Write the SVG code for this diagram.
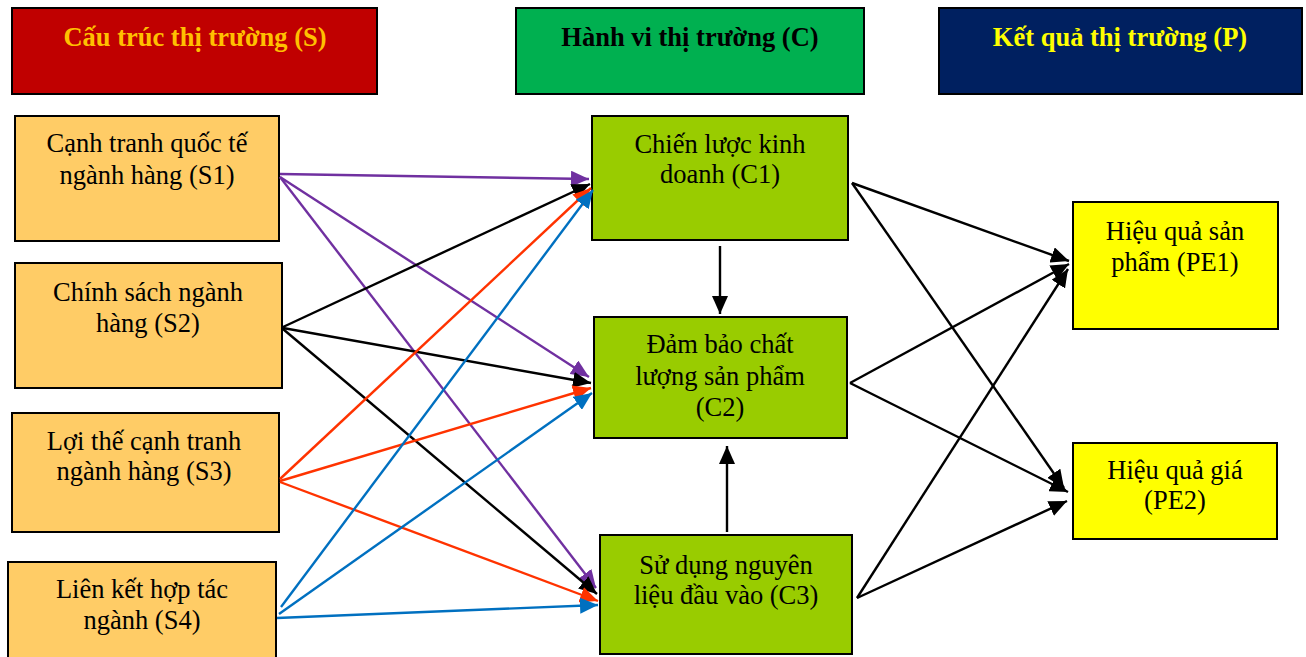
<svg xmlns="http://www.w3.org/2000/svg" width="1306" height="657" viewBox="0 0 1306 657">
<style>
.box{stroke:#000;stroke-width:2}
.hd{font-family:"Liberation Serif","Times New Roman",serif;font-weight:bold;font-size:26.5px;text-anchor:middle}
.t{font-family:"Liberation Serif","Times New Roman",serif;font-size:26.5px;text-anchor:middle;fill:#000}
.s{fill:#FFCC66}.c{fill:#99CC00}.p{fill:#FFFF00}
.ln{fill:none;stroke-width:2.4}
.k{stroke:#000;marker-end:url(#mk)}
.pu{stroke:#7030A0;marker-end:url(#mpu)}
.r{stroke:#FF3300;marker-end:url(#mr)}
.b{stroke:#0070C0;marker-end:url(#mb)}
</style>
<defs>
<marker id="mk" markerUnits="userSpaceOnUse" markerWidth="19" markerHeight="16" refX="18" refY="8" orient="auto"><path d="M0,0 L18,8 L0,16 Z" fill="#000"/></marker>
<marker id="mpu" markerUnits="userSpaceOnUse" markerWidth="19" markerHeight="16" refX="18" refY="8" orient="auto"><path d="M0,0 L18,8 L0,16 Z" fill="#7030A0"/></marker>
<marker id="mr" markerUnits="userSpaceOnUse" markerWidth="19" markerHeight="16" refX="18" refY="8" orient="auto"><path d="M0,0 L18,8 L0,16 Z" fill="#FF3300"/></marker>
<marker id="mb" markerUnits="userSpaceOnUse" markerWidth="19" markerHeight="16" refX="18" refY="8" orient="auto"><path d="M0,0 L18,8 L0,16 Z" fill="#0070C0"/></marker>
</defs>
<rect width="1306" height="657" fill="#fff"/>

<g id="hdrS"><rect class="box" x="12" y="8" width="365" height="86" fill="#C00000"/><text class="hd" x="195" y="46" fill="#FFC000">Cấu trúc thị trường (S)</text></g>
<g id="hdrC"><rect class="box" x="516" y="8" width="348" height="86" fill="#00B050"/><text class="hd" x="690" y="46" fill="#000">Hành vi thị trường (C)</text></g>
<g id="hdrP"><rect class="box" x="939" y="8" width="363" height="86" fill="#002060"/><text class="hd" x="1120" y="46" fill="#FFFF00">Kết quả thị trường (P)</text></g>

<g id="S1"><rect class="box s" x="15" y="116" width="264" height="125"/><text class="t" x="147" y="152">Cạnh tranh quốc tế</text><text class="t" x="147" y="184">ngành hàng (S1)</text></g>
<g id="S2"><rect class="box s" x="15" y="263" width="267" height="125"/><text class="t" x="148" y="301">Chính sách ngành</text><text class="t" x="148" y="332">hàng (S2)</text></g>
<g id="S3"><rect class="box s" x="12" y="413" width="267" height="119"/><text class="t" x="144" y="450">Lợi thế cạnh tranh</text><text class="t" x="144" y="480">ngành hàng (S3)</text></g>
<g id="S4"><rect class="box s" x="8" y="562" width="268" height="98"/><text class="t" x="142" y="598">Liên kết hợp tác</text><text class="t" x="142" y="629">ngành (S4)</text></g>

<g id="C1"><rect class="box c" x="592" y="116" width="256" height="124"/><text class="t" x="720" y="153">Chiến lược kinh</text><text class="t" x="720" y="183">doanh (C1)</text></g>
<g id="C2"><rect class="box c" x="594" y="317" width="253" height="121"/><text class="t" x="720" y="353">Đảm bảo chất</text><text class="t" x="720" y="385">lượng sản phẩm</text><text class="t" x="720" y="416">(C2)</text></g>
<g id="C3"><rect class="box c" x="600" y="535" width="252" height="119"/><text class="t" x="726" y="574">Sử dụng nguyên</text><text class="t" x="726" y="604">liệu đầu vào (C3)</text></g>

<g id="PE1"><rect class="box p" x="1073" y="202" width="205" height="127"/><text class="t" x="1175" y="240">Hiệu quả sản</text><text class="t" x="1175" y="271">phẩm (PE1)</text></g>
<g id="PE2"><rect class="box p" x="1073" y="443" width="204" height="96"/><text class="t" x="1175" y="479">Hiệu quả giá</text><text class="t" x="1175" y="509">(PE2)</text></g>

<g id="connectors">
<line class="ln pu" x1="280" y1="174" x2="589" y2="179"/>
<line class="ln pu" x1="280" y1="177" x2="589" y2="377"/>
<line class="ln pu" x1="280" y1="177" x2="596" y2="588"/>
<line class="ln k" x1="283" y1="327" x2="590" y2="184"/>
<line class="ln k" x1="283" y1="328" x2="591" y2="383"/>
<line class="ln k" x1="283" y1="329" x2="597" y2="594"/>
<line class="ln r" x1="280" y1="479" x2="591" y2="188"/>
<line class="ln r" x1="280" y1="481" x2="591" y2="388"/>
<line class="ln r" x1="280" y1="482" x2="598" y2="601"/>
<line class="ln b" x1="281" y1="607" x2="593" y2="190"/>
<line class="ln b" x1="279" y1="614" x2="592" y2="393"/>
<line class="ln b" x1="277" y1="618" x2="598" y2="605"/>
<line class="ln k" x1="720" y1="246" x2="720" y2="314"/>
<line class="ln k" x1="727" y1="532" x2="727" y2="446"/>
<line class="ln k" x1="852" y1="183" x2="1069" y2="261"/>
<line class="ln k" x1="852" y1="183" x2="1064" y2="488"/>
<line class="ln k" x1="850" y1="383" x2="1069" y2="264"/>
<line class="ln k" x1="850" y1="383" x2="1068" y2="492"/>
<line class="ln k" x1="857" y1="598" x2="1068" y2="269"/>
<line class="ln k" x1="857" y1="598" x2="1067" y2="501"/>
</g>
</svg>
